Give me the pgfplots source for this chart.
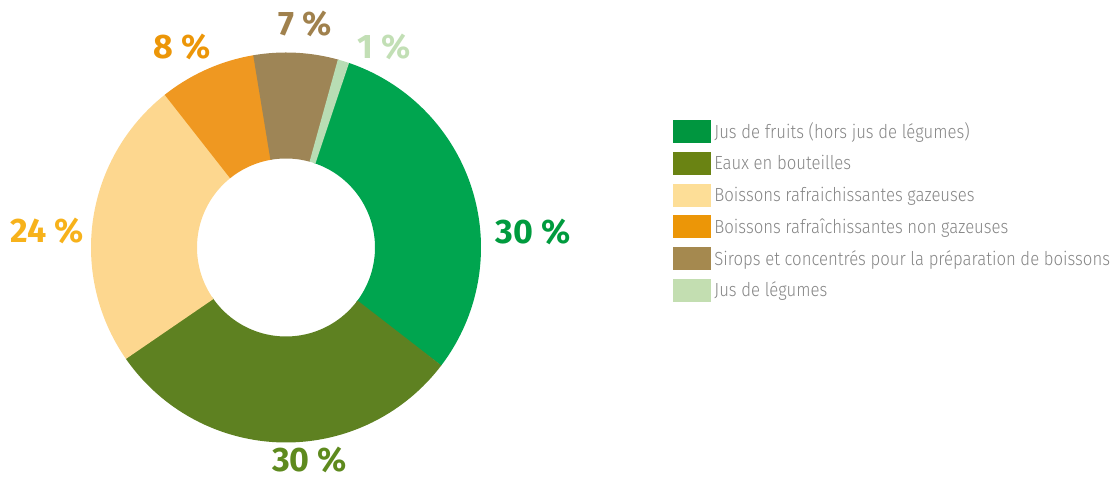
\documentclass[border=0pt]{standalone}
\usepackage{pgfplots}
\pgfplotsset{compat=1.18}
\usepackage{fontspec}
\setmainfont{Fira Sans}
\newfontfamily\lblfont{Fira Sans}[UprightFont=* Bold]
\newfontfamily\legfont{Fira Sans}[UprightFont=* Light, FakeStretch=0.88]
\definecolor{sGreen}{HTML}{00A54F}
\definecolor{sOlive}{HTML}{5E8121}
\definecolor{sPeach}{HTML}{FDD78F}
\definecolor{sOrange}{HTML}{EF9821}
\definecolor{sBrown}{HTML}{9E8556}
\definecolor{sLight}{HTML}{B8DDB4}
\definecolor{lGreen}{HTML}{009B3E}
\definecolor{lOlive}{HTML}{5E8A1E}
\definecolor{lPeach}{HTML}{F7B21B}
\definecolor{lOrange}{HTML}{EC9608}
\definecolor{lBrown}{HTML}{A0814D}
\definecolor{lLight}{HTML}{C2DFB5}
\definecolor{kGreen}{HTML}{00963F}
\definecolor{kOlive}{HTML}{6A8313}
\definecolor{kPeach}{HTML}{FDDE97}
\definecolor{kOrange}{HTML}{EC9607}
\definecolor{kBrown}{HTML}{A5894F}
\definecolor{kLight}{HTML}{C3DEB1}
\definecolor{txtgray}{HTML}{858585}
% shares in percent, drawn clockwise from 71 degrees
\def\pA{30}\def\pB{30}\def\pC{24}\def\pD{8}\def\pE{7}\def\pF{1}
\begin{document}
\begin{tikzpicture}[x=1pt,y=1pt]
\useasboundingbox (0,0) rectangle (1112,479);
\begin{axis}[
  at={(0,0)}, anchor=south west,
  scale only axis, width=1112pt, height=479pt,
  xmin=0, xmax=1112, ymin=0, ymax=479,
  hide axis, clip=false,
  legend style={at={(axis cs:673,359)}, anchor=north west, draw=none, fill=none,
    inner sep=0pt, outer sep=0pt, row sep=9.4pt,
    font=\legfont\fontsize{19}{20}\selectfont, text=txtgray,
    nodes={inner sep=0pt, outer sep=0pt}},
  legend cell align=left,
  legend image code/.code={\fill[#1] (0pt,-11pt) rectangle (37pt,11pt);},
  /tikz/every odd column/.append style={column sep=4pt},
]
\pgfmathsetmacro{\aA}{71}
\pgfmathsetmacro{\aB}{\aA-3.6*\pA}
\pgfmathsetmacro{\aC}{\aB-3.6*\pB}
\pgfmathsetmacro{\aD}{\aC-3.6*\pC}
\pgfmathsetmacro{\aE}{\aD-3.6*\pD}
\pgfmathsetmacro{\aF}{\aE-3.6*\pE}
\pgfmathsetmacro{\aG}{\aF-3.6*\pF}
\addplot[forget plot, line width=106pt, sGreen, domain={\aB-0.4}:{\aA+0.4}, samples=90] ({286+142*cos(x)},{231.5+142*sin(x)});
\addplot[forget plot, line width=106pt, sOlive, domain={\aC-0.4}:\aB, samples=90] ({286+142*cos(x)},{231.5+142*sin(x)});
\addplot[forget plot, line width=106pt, sPeach, domain={\aD-0.4}:\aC, samples=80] ({286+142*cos(x)},{231.5+142*sin(x)});
\addplot[forget plot, line width=106pt, sOrange, domain={\aE-0.4}:\aD, samples=30] ({286+142*cos(x)},{231.5+142*sin(x)});
\addplot[forget plot, line width=106pt, sBrown, domain={\aF-0.4}:\aE, samples=30] ({286+142*cos(x)},{231.5+142*sin(x)});
\addplot[forget plot, line width=106pt, sLight, domain=\aG:\aF, samples=8] ({286+142*cos(x)},{231.5+142*sin(x)});

\addlegendimage{kGreen}\addlegendentry{Jus de fruits (hors jus de légumes)}
\addlegendimage{kOlive}\addlegendentry{Eaux en bouteilles}
\addlegendimage{kPeach}\addlegendentry{Boissons rafraichissantes gazeuses}
\addlegendimage{kOrange}\addlegendentry{Boissons rafraîchissantes non gazeuses}
\addlegendimage{kBrown}\addlegendentry{Sirops et concentrés pour la préparation de boissons}
\addlegendimage{kLight}\addlegendentry{Jus de légumes}

\tikzset{lbl/.style={font=\lblfont\fontsize{34}{34}\selectfont, inner sep=0pt, anchor=base, text depth=0pt}}
\node[lbl, text=lGreen] at (axis cs:533,235.7) {30 \%};
\node[lbl, text=lOlive] at (axis cs:309.5,7) {30 \%};
\node[lbl, text=lPeach] at (axis cs:47.5,236) {24 \%};
\node[lbl, text=lOrange] at (axis cs:182,420) {8 \%};
\node[lbl, text=lBrown] at (axis cs:305,443) {7 \%};
\node[lbl, text=lLight] at (axis cs:384.5,420) {1 \%};
\end{axis}
\end{tikzpicture}
\end{document}
